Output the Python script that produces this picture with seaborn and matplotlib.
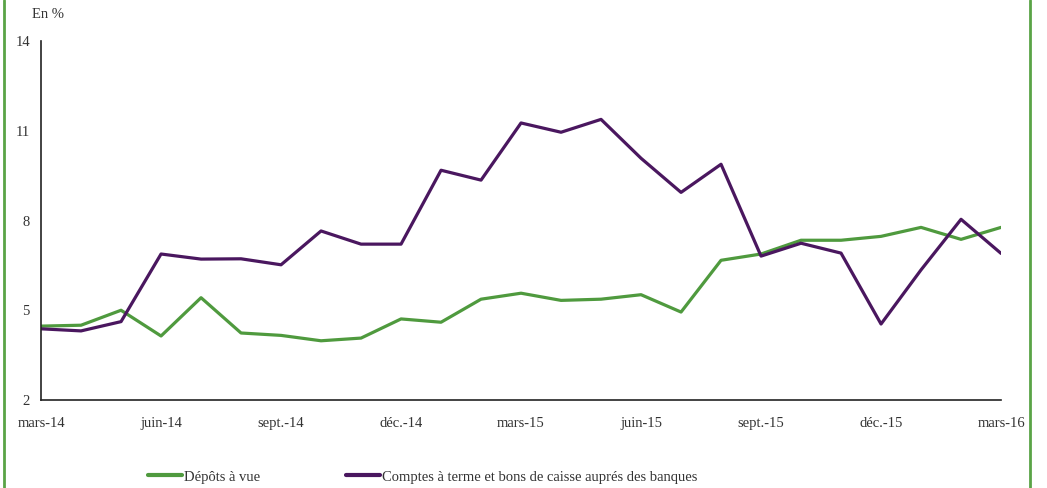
import numpy as np
import pandas as pd
import seaborn as sns
import matplotlib.pyplot as plt
from matplotlib.lines import Line2D

# monthly series, mars-14 .. mars-16
months = ["mars-14", "avr.-14", "mai-14", "juin-14", "juil.-14", "août-14", "sept.-14",
          "oct.-14", "nov.-14", "déc.-14", "janv.-15", "févr.-15", "mars-15", "avr.-15",
          "mai-15", "juin-15", "juil.-15", "août-15", "sept.-15", "oct.-15", "nov.-15",
          "déc.-15", "janv.-16", "févr.-16", "mars-16"]
depots_vue = [4.47, 4.5, 5.0, 4.14, 5.42, 4.24, 4.16, 3.98, 4.07, 4.71, 4.6, 5.37, 5.57,
              5.33, 5.37, 5.52, 4.94, 6.67, 6.88, 7.34, 7.34, 7.47, 7.77, 7.37, 7.77]
comptes_terme = [4.38, 4.31, 4.62, 6.88, 6.71, 6.72, 6.52, 7.65, 7.21, 7.21, 9.68, 9.35,
                 11.26, 10.95, 11.38, 10.08, 8.94, 9.88, 6.81, 7.24, 6.91, 4.54, 6.35,
                 8.04, 6.9]
series_names = ["Dépôts à vue", "Comptes à terme et bons de caisse auprés des banques"]
tick_labels = ["mars-14", "juin-14", "sept.-14", "déc.-14", "mars-15", "juin-15",
               "sept.-15", "déc.-15", "mars-16"]
y_ticks = [2, 5, 8, 11, 14]

green = "#4f9a3e"
purple = "#4a175f"

df = pd.DataFrame({
    "mois": list(range(len(months))) * 2,
    "valeur": depots_vue + comptes_terme,
    "serie": [series_names[0]] * len(months) + [series_names[1]] * len(months),
})

sns.set_style("white")
plt.rcParams["font.family"] = ["Liberation Serif", "DejaVu Serif"]

fig = plt.figure(figsize=(10.47, 4.88), dpi=100)
ax = fig.add_axes([0.0392, 0.1803, 0.9169, 0.7357])

sns.lineplot(data=df, x="mois", y="valeur", hue="serie",
             palette={series_names[0]: green, series_names[1]: purple},
             linewidth=2.3, ax=ax, legend=False)

ax.set_xlim(0, 24)
ax.set_ylim(2, 14)
ax.set_xticks(range(0, 25, 3))
ax.set_xticklabels(tick_labels)
ax.set_yticks(y_ticks)
ax.set_xlabel("")
ax.set_ylabel("")
ax.tick_params(axis="both", direction="out", length=4, width=1, colors="#222222",
               labelsize=10.5, labelcolor="#333333")
ax.tick_params(axis="x", pad=8)
ax.tick_params(axis="y", pad=4)
for side in ["top", "right"]:
    ax.spines[side].set_visible(False)
for side in ["left", "bottom"]:
    ax.spines[side].set_color("#222222")
    ax.spines[side].set_linewidth(1.2)

fig.text(32 / 1047, 1 - 14 / 488, "En %", fontsize=10.5, color="#333333", va="center")

handles = [Line2D([], [], color=green, lw=3), Line2D([], [], color=purple, lw=3)]
fig.legend(handles, series_names, loc="center left", bbox_to_anchor=(135 / 1047, 1 - 477 / 488),
           ncol=2, frameon=False, fontsize=10.5, handlelength=2.3, handletextpad=0.15,
           columnspacing=5.9, labelcolor="#333333")

# green frame lines at figure edges
fig.add_artist(Line2D([4 / 1047, 4 / 1047], [0, 1], color="#5aa346", lw=2, transform=fig.transFigure))
fig.add_artist(Line2D([1030 / 1047, 1030 / 1047], [0, 1], color="#5aa346", lw=2, transform=fig.transFigure))

fig.savefig("out.png", dpi=100)
